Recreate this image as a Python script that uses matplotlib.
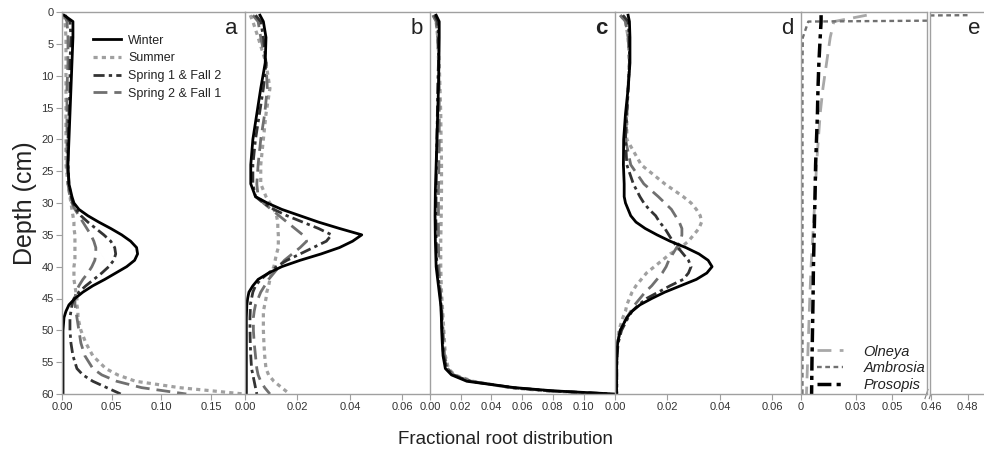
import matplotlib
matplotlib.use("Agg")
import matplotlib.pyplot as plt

plt.rcParams['font.family'] = ['Liberation Sans', 'DejaVu Sans']

# depth grid (cm) used in panels a, b, d
depth = [0.5, 1.5, 4, 8, 12, 16, 20, 24, 27, 29, 30, 31, 32, 33, 34, 35, 36, 37, 38, 39,
         40, 41, 42, 43, 44, 45, 46, 47, 48, 50, 52, 54, 56, 57, 58, 59, 60]

# panel a
winter_a = [0.002, 0.011, 0.011, 0.010, 0.009, 0.008, 0.007, 0.006, 0.007, 0.010, 0.012, 0.017, 0.026,
            0.037, 0.049, 0.060, 0.069, 0.075, 0.076, 0.073, 0.065, 0.054, 0.043, 0.031, 0.021, 0.013,
            0.007, 0.004, 0.002, 0.001, 0.001, 0.001, 0.001, 0.001, 0.001, 0.001, 0.001]
summer_a = [0.001, 0.003, 0.004, 0.004, 0.004, 0.004, 0.004, 0.004, 0.006, 0.008, 0.009, 0.010, 0.011,
            0.012, 0.012, 0.013, 0.013, 0.013, 0.013, 0.013, 0.012, 0.012, 0.012, 0.013, 0.014, 0.015,
            0.015, 0.016, 0.016, 0.019, 0.024, 0.031, 0.044, 0.056, 0.074, 0.118, 0.183]
s1f2_a = [0.003, 0.008, 0.009, 0.008, 0.008, 0.007, 0.006, 0.006, 0.007, 0.009, 0.011, 0.014, 0.019,
          0.026, 0.034, 0.042, 0.049, 0.053, 0.054, 0.052, 0.047, 0.040, 0.032, 0.024, 0.017, 0.012,
          0.010, 0.009, 0.008, 0.008, 0.009, 0.011, 0.015, 0.021, 0.031, 0.045, 0.059]
s2f1_a = [0.002, 0.005, 0.006, 0.006, 0.005, 0.005, 0.005, 0.005, 0.006, 0.008, 0.010, 0.013, 0.017,
          0.021, 0.025, 0.029, 0.032, 0.034, 0.034, 0.033, 0.030, 0.026, 0.021, 0.017, 0.014, 0.013,
          0.013, 0.014, 0.015, 0.017, 0.019, 0.023, 0.031, 0.040, 0.055, 0.080, 0.125]

# panel b
winter_b = [0.0057, 0.007, 0.008, 0.0077, 0.006, 0.0045, 0.003, 0.0022, 0.0022, 0.004, 0.0085, 0.014,
            0.021, 0.028, 0.036, 0.0445, 0.041, 0.036, 0.029, 0.021, 0.014, 0.009, 0.005, 0.003, 0.0015,
            0.001, 0.0007, 0.0006, 0.0005, 0.0005, 0.0005, 0.0005, 0.0005, 0.0005, 0.0005, 0.0005, 0.0005]
summer_b = [0.002, 0.003, 0.005, 0.008, 0.0095, 0.008, 0.007, 0.006, 0.006, 0.008, 0.0095, 0.011, 0.012,
            0.0125, 0.0125, 0.0127, 0.0127, 0.0127, 0.012, 0.0115, 0.011, 0.010, 0.0095, 0.009, 0.0083,
            0.008, 0.0075, 0.007, 0.007, 0.007, 0.0072, 0.0075, 0.008, 0.009, 0.011, 0.014, 0.017]
s1f2_b = [0.004, 0.006, 0.007, 0.008, 0.007, 0.0055, 0.004, 0.003, 0.003, 0.004, 0.007, 0.011, 0.016,
          0.022, 0.028, 0.033, 0.031, 0.026, 0.021, 0.016, 0.012, 0.009, 0.006, 0.004, 0.003, 0.0025,
          0.002, 0.002, 0.0019, 0.0019, 0.002, 0.0022, 0.0025, 0.003, 0.0035, 0.004, 0.0045]
s2f1_b = [0.003, 0.005, 0.006, 0.008, 0.0085, 0.0075, 0.006, 0.005, 0.0045, 0.005, 0.007, 0.010, 0.013,
          0.016, 0.019, 0.022, 0.0235, 0.021, 0.018, 0.015, 0.013, 0.011, 0.009, 0.0075, 0.006, 0.005,
          0.004, 0.0035, 0.0032, 0.0032, 0.0035, 0.004, 0.0045, 0.005, 0.006, 0.0075, 0.0095]

# panel c (own depth grid)
depth_c = [0.5, 1.5, 4, 8, 12, 16, 20, 24, 28, 32, 36, 40, 42, 44, 46, 48, 50, 52, 54, 56, 57, 58, 59, 59.5, 60]
winter_c = [0.004, 0.006, 0.006, 0.0058, 0.0055, 0.005, 0.0045, 0.004, 0.0035, 0.0033, 0.0035, 0.004,
            0.005, 0.006, 0.007, 0.0074, 0.0076, 0.008, 0.0085, 0.010, 0.014, 0.024, 0.055, 0.080, 0.120]
summer_c = [0.002, 0.004, 0.005, 0.006, 0.0065, 0.007, 0.0072, 0.0075, 0.0075, 0.0073, 0.007, 0.007,
            0.0072, 0.0075, 0.008, 0.0085, 0.009, 0.0095, 0.010, 0.012, 0.016, 0.028, 0.052, 0.075, 0.115]
s1f2_c = [0.003, 0.005, 0.0055, 0.0055, 0.005, 0.0048, 0.0045, 0.0042, 0.004, 0.0038, 0.004, 0.0045,
          0.0055, 0.0065, 0.0072, 0.0076, 0.008, 0.0083, 0.0088, 0.011, 0.015, 0.026, 0.054, 0.078, 0.118]
s2f1_c = [0.002, 0.004, 0.005, 0.0055, 0.006, 0.006, 0.006, 0.0058, 0.0055, 0.0055, 0.0055, 0.0058,
          0.0062, 0.0068, 0.0075, 0.008, 0.0085, 0.009, 0.0095, 0.0115, 0.0155, 0.027, 0.053, 0.077, 0.117]

# panel d
winter_d = [0.005, 0.0055, 0.0057, 0.0057, 0.005, 0.004, 0.0033, 0.0032, 0.0035, 0.0035, 0.004, 0.005,
            0.006, 0.008, 0.0115, 0.016, 0.021, 0.027, 0.032, 0.0355, 0.037, 0.035, 0.031, 0.025, 0.019,
            0.014, 0.0095, 0.0065, 0.0045, 0.002, 0.001, 0.0007, 0.0006, 0.0006, 0.0006, 0.0006, 0.0006]
summer_d = [0.002, 0.004, 0.005, 0.0055, 0.005, 0.0045, 0.0045, 0.010, 0.019, 0.026, 0.029, 0.031, 0.0325,
            0.033, 0.032, 0.030, 0.028, 0.025, 0.021, 0.018, 0.015, 0.012, 0.010, 0.008, 0.0065, 0.0055,
            0.0045, 0.004, 0.003, 0.0015, 0.001, 0.0007, 0.0006, 0.0006, 0.0006, 0.0006, 0.0006]
s1f2_d = [0.003, 0.005, 0.0055, 0.0055, 0.005, 0.0045, 0.004, 0.0045, 0.007, 0.0095, 0.011, 0.013, 0.0155,
          0.017, 0.019, 0.0205, 0.022, 0.024, 0.026, 0.028, 0.029, 0.028, 0.026, 0.021, 0.0165, 0.012,
          0.009, 0.0065, 0.005, 0.0025, 0.0012, 0.0008, 0.0007, 0.0007, 0.0007, 0.0007, 0.0007]
s2f1_d = [0.002, 0.004, 0.005, 0.0055, 0.005, 0.0045, 0.004, 0.006, 0.011, 0.0165, 0.019, 0.0215, 0.023,
          0.0245, 0.0255, 0.0255, 0.025, 0.0235, 0.022, 0.0205, 0.0195, 0.018, 0.016, 0.014, 0.0115,
          0.0095, 0.0075, 0.006, 0.0045, 0.002, 0.001, 0.0007, 0.0006, 0.0006, 0.0006, 0.0006, 0.0006]

# panel e (species)
depth_e = [0.5, 1.5, 4, 8, 12, 16, 20, 24, 30, 35, 40, 45, 50, 55, 60]
olneya = [0.036, 0.018, 0.016, 0.014, 0.012, 0.0105, 0.0095, 0.0085, 0.0075, 0.0065, 0.0055, 0.0048,
          0.0042, 0.0036, 0.003]
ambrosia = [0.48, 0.004, 0.001, 0.0008, 0.0008, 0.0008, 0.0008, 0.0008, 0.0008, 0.0008, 0.0008, 0.0008,
            0.0008, 0.0008, 0.0008]
prosopis = [0.011, 0.011, 0.0105, 0.0098, 0.0093, 0.009, 0.0085, 0.008, 0.0076, 0.0072, 0.0068, 0.0066,
            0.0063, 0.006, 0.0058]

season_labels = ['Winter', 'Summer', 'Spring 1 & Fall 2', 'Spring 2 & Fall 1']
species_labels = ['Olneya', 'Ambrosia', 'Prosopis']

# line styles
st_winter = dict(color='black', lw=2.0, ls='-')
st_summer = dict(color='#a0a0a0', lw=2.3, dashes=(1.3, 1.3))
st_s1f2 = dict(color='#333333', lw=2.0, dashes=(4, 1.5, 1.2, 1.5))
st_s2f1 = dict(color='#707070', lw=2.0, dashes=(5, 2.5))

SPINE = '#a0a0a0'
W, H = 984, 458
TOP, BOT = 12, 394

fig = plt.figure(figsize=(9.84, 4.58), dpi=100)


def box(x0, x1):
    return [x0 / W, (H - BOT) / H, (x1 - x0) / W, (BOT - TOP) / H]


def style(ax, xlim, ticks, labels, right=False):
    ax.set_xlim(*xlim)
    ax.set_ylim(60, 0)
    for s in ['left', 'top', 'bottom', 'right']:
        ax.spines[s].set_color(SPINE)
        ax.spines[s].set_linewidth(1.0)
    ax.spines['right'].set_visible(right)
    ax.set_xticks(ticks)
    ax.set_xticklabels(labels)
    ax.tick_params(axis='x', direction='out', length=4, color=SPINE, labelsize=8,
                   labelcolor='#333333', pad=2)
    ax.set_yticks([])


panels = [
    ('a', (62, 245), (0, 0.184), [0, 0.05, 0.10, 0.15], ['0.00', '0.05', '0.10', '0.15'],
     depth, winter_a, summer_a, s1f2_a, s2f1_a),
    ('b', (245, 430), (0, 0.0705), [0, 0.02, 0.04, 0.06], ['0.00', '0.02', '0.04', '0.06'],
     depth, winter_b, summer_b, s1f2_b, s2f1_b),
    ('c', (430, 615), (0, 0.1205), [0, 0.02, 0.04, 0.06, 0.08, 0.10],
     ['0.00', '0.02', '0.04', '0.06', '0.08', '0.10'],
     depth_c, winter_c, summer_c, s1f2_c, s2f1_c),
    ('d', (615, 801), (0, 0.0709), [0, 0.02, 0.04, 0.06], ['0.00', '0.02', '0.04', '0.06'],
     depth, winter_d, summer_d, s1f2_d, s2f1_d),
]

axes = []
for letter, (x0, x1), xlim, ticks, labels, dd, w, s, s1, s2 in panels:
    ax = fig.add_axes(box(x0, x1))
    style(ax, xlim, ticks, labels)
    ax.plot(s, dd, label=season_labels[1], **st_summer)
    ax.plot(s2, dd, label=season_labels[3], **st_s2f1)
    ax.plot(s1, dd, label=season_labels[2], **st_s1f2)
    ax.plot(w, dd, label=season_labels[0], **st_winter)
    ax.text(0.96, 0.985, letter, transform=ax.transAxes, ha='right', va='top', fontsize=16,
            color='#222222', fontweight='bold' if letter == 'c' else 'normal')
    axes.append(ax)

# y axis only on panel a
axa = axes[0]
axa.set_yticks(range(0, 61, 5))
axa.tick_params(axis='y', direction='out', length=4, color=SPINE, labelsize=8,
                labelcolor='#333333', pad=2)

h, l = axa.get_legend_handles_labels()
order = [3, 0, 2, 1]
axa.legend([h[i] for i in order], [l[i] for i in order], loc='upper left',
           bbox_to_anchor=(0.11, 0.97), frameon=False, fontsize=9, handlelength=2.2,
           labelspacing=0.45, handletextpad=0.6, labelcolor='#222222')

# panel e: broken x axis
e1 = fig.add_axes(box(801, 927))
style(e1, (0, 0.069), [0, 0.03, 0.05], ['0', '0.03', '0.05'])
e2 = fig.add_axes(box(930, 984))
style(e2, (0.4595, 0.489), [0.46, 0.48], ['0.46', '0.48'])
e1.spines['right'].set_visible(True)
e1.spines['right'].set_linestyle((0, (1, 1)))
e2.spines['left'].set_linestyle((0, (1, 1)))

st_olneya = dict(color='#a8a8a8', lw=2.0, dashes=(5, 3))
st_ambrosia = dict(color='#707070', lw=1.7, dashes=(2, 1.5))
st_prosopis = dict(color='black', lw=2.5, dashes=(4, 1.5, 1.2, 1.5))

for ax in (e1, e2):
    ax.plot(olneya, depth_e, label=species_labels[0], **st_olneya)
    ax.plot(ambrosia, depth_e, label=species_labels[1], **st_ambrosia)
    ax.plot(prosopis, depth_e, label=species_labels[2], **st_prosopis)

e2.text(0.93, 0.985, 'e', transform=e2.transAxes, ha='right', va='top', fontsize=16, color='#222222')

leg = e1.legend(loc='lower right', bbox_to_anchor=(1.09, -0.03), frameon=False, fontsize=10.5,
                handlelength=1.8, labelspacing=0.2, handletextpad=1.4, labelcolor='#222222')
for t in leg.get_texts():
    t.set_fontstyle('italic')

# break marks at the bottom
for dx in (0.996, 1.03):
    e1.plot([dx - 0.012, dx + 0.012], [-0.012, 0.012], transform=e1.transAxes, color='#808080',
            lw=0.8, clip_on=False)

fig.text(25 / W, 1 - 203 / H, 'Depth (cm)', rotation=90, ha='center', va='center', fontsize=18,
         color='#222222')
fig.text(505 / W, 1 - 440 / H, 'Fractional root distribution', ha='center', va='center',
         fontsize=13.5, color='#222222')

fig.savefig('out.png', dpi=100)
